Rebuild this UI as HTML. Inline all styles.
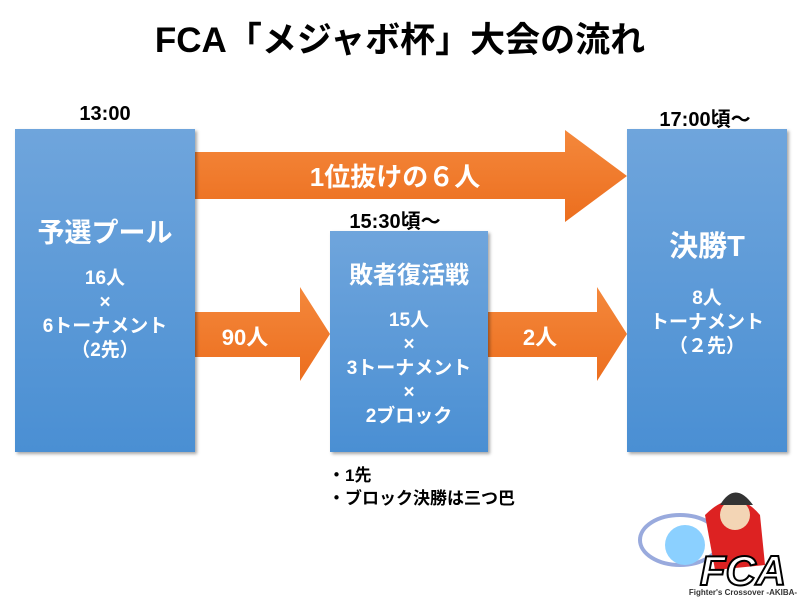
<!DOCTYPE html>
<html><head><meta charset="utf-8"><style>
body{margin:0;width:800px;height:600px;background:#fff;position:relative;overflow:hidden;font-family:"Liberation Sans","Noto Sans CJK JP",sans-serif;font-weight:bold}
.t{position:absolute;color:#000;text-align:center;white-space:nowrap}
.box{position:absolute;background:linear-gradient(#6fa5dc,#4a8fd3);box-shadow:2px 2px 3px rgba(0,0,0,.35);color:#fff;text-align:center}
.w{position:absolute;color:#fff;text-align:center;left:-20px;right:-20px;white-space:nowrap}
</style></head><body>
<div class="t" style="left:0;width:800px;top:12px;font-size:35px">FCA「メジャボ杯」大会の流れ</div>
<div class="t" style="left:55px;width:100px;top:103px;font-size:20px">13:00</div>
<div class="t" style="left:620px;width:170px;top:103px;font-size:20px">17:00頃～</div>
<div class="t" style="left:320px;width:150px;top:205px;font-size:20px">15:30頃～</div>
<svg style="position:absolute;left:0;top:0" width="800" height="600">
<defs><linearGradient id="o" x1="0" y1="0" x2="0" y2="1"><stop offset="0" stop-color="#f4883c"/><stop offset="1" stop-color="#ec6e1e"/></linearGradient></defs>
<polygon points="195,152 565,152 565,130 627,176 565,222 565,199 195,199" fill="url(#o)"/>
<polygon points="195,312 300,312 300,287 330,334 300,381 300,357 195,357" fill="url(#o)"/>
<polygon points="488,312 597,312 597,287 627,334 597,381 597,357 488,357" fill="url(#o)"/>
</svg>
<div class="t" style="left:245px;width:300px;top:157px;font-size:26px;color:#fff">1位抜けの６人</div>
<div class="t" style="left:200px;width:90px;top:320px;font-size:22px;color:#fff">90人</div>
<div class="t" style="left:495px;width:90px;top:320px;font-size:22px;color:#fff">2人</div>
<div class="box" style="left:15px;top:129px;width:180px;height:323px">
<div class="w" style="top:82px;font-size:27px">予選プール</div>
<div class="w" style="top:138px;font-size:19px;line-height:24px">16人<br>×<br>6トーナメント<br>（2先）</div></div>
<div class="box" style="left:330px;top:231px;width:158px;height:221px">
<div class="w" style="top:24px;font-size:24px">敗者復活戦</div>
<div class="w" style="top:78px;font-size:19px;line-height:24px">15人<br>×<br>3トーナメント<br>×<br>2ブロック</div></div>
<div class="box" style="left:627px;top:129px;width:160px;height:323px">
<div class="w" style="top:94px;font-size:29px">決勝T</div>
<div class="w" style="top:158px;font-size:19px;line-height:24px">8人<br>トーナメント<br>（２先）</div></div>
<div class="t" style="left:328px;top:464px;font-size:17px;text-align:left;line-height:23px">・1先<br>・ブロック決勝は三つ巴</div>
<svg style="position:absolute;left:625px;top:475px" width="175" height="125">
<ellipse cx="55" cy="65" rx="40" ry="25" fill="none" stroke="#9ad" stroke-width="4"/>
<circle cx="60" cy="70" r="20" fill="#8bd0ff"/>
<path d="M80 40 Q110 10 135 40 L140 90 L90 95 Z" fill="#d22"/>
<circle cx="110" cy="40" r="15" fill="#f3d5b5"/>
<path d="M95 30 Q110 5 128 30 Z" fill="#333"/>
<text x="118" y="110" font-size="42" font-style="italic" font-weight="bold" font-family="Liberation Sans" fill="#fff" stroke="#000" stroke-width="2" text-anchor="middle">FCA</text>
<text x="118" y="120" font-size="8" font-family="Liberation Sans" fill="#333" text-anchor="middle">Fighter's Crossover -AKIBA-</text>
</svg>
</body></html>
